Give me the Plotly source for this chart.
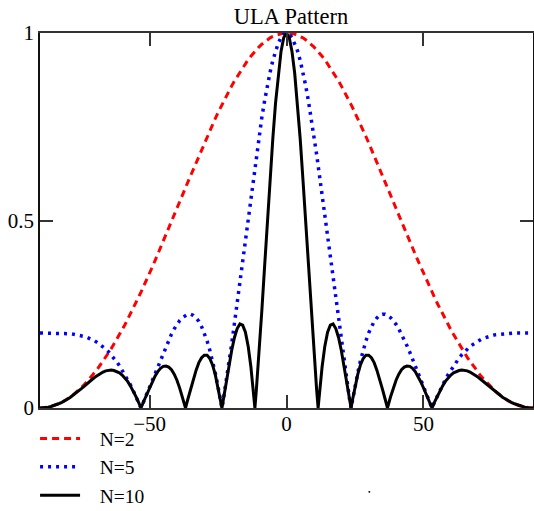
import plotly.graph_objects as go

# Angle (degrees) at which each pattern value was read
theta_deg = [
    -90, -89, -88, -87, -86, -85, -84, -83, -82, -81, -80, -79, -78, -77, -76, -75, -74, -73, -72, -71,
    -70, -69, -68, -67, -66, -65, -64, -63, -62, -61, -60, -59, -58, -57, -56, -55, -54, -53.13,
    -53, -52, -51, -50, -49, -48, -47, -46, -45, -44, -43, -42, -41, -40, -39, -38, -37, -36.87,
    -36, -35, -34, -33, -32, -31, -30, -29, -28, -27, -26, -25, -24, -23.58,
    -23, -22, -21, -20, -19, -18, -17, -16, -15, -14, -13, -12, -11.54,
    -11, -10, -9, -8, -7, -6, -5, -4, -3, -2, -1,
    0,
    1, 2, 3, 4, 5, 6, 7, 8, 9, 10, 11,
    11.54, 12, 13, 14, 15, 16, 17, 18, 19, 20, 21, 22, 23,
    23.58, 24, 25, 26, 27, 28, 29, 30, 31, 32, 33, 34, 35, 36,
    36.87, 37, 38, 39, 40, 41, 42, 43, 44, 45, 46, 47, 48, 49, 50, 51, 52, 53,
    53.13, 54, 55, 56, 57, 58, 59, 60, 61, 62, 63, 64, 65, 66, 67, 68, 69, 70,
    71, 72, 73, 74, 75, 76, 77, 78, 79, 80, 81, 82, 83, 84, 85, 86, 87, 88, 89, 90,
]

# N = 2 elements
af_n2 = [
    0.000, 0.000, 0.001, 0.002, 0.004, 0.006, 0.009, 0.012, 0.015, 0.019, 0.024, 0.029, 0.034, 0.040, 0.047, 0.054, 0.061, 0.069, 0.077, 0.085,
    0.095, 0.104, 0.114, 0.125, 0.135, 0.147, 0.158, 0.170, 0.183, 0.196, 0.209, 0.222, 0.236, 0.251, 0.265, 0.280, 0.296, 0.309,
    0.311, 0.327, 0.343, 0.359, 0.376, 0.393, 0.410, 0.427, 0.444, 0.461, 0.479, 0.497, 0.514, 0.532, 0.550, 0.568, 0.585, 0.588,
    0.603, 0.621, 0.638, 0.656, 0.673, 0.690, 0.707, 0.724, 0.740, 0.756, 0.772, 0.788, 0.803, 0.809,
    0.817, 0.832, 0.846, 0.859, 0.872, 0.884, 0.896, 0.908, 0.918, 0.929, 0.938, 0.947, 0.951,
    0.955, 0.963, 0.970, 0.976, 0.982, 0.987, 0.991, 0.994, 0.997, 0.998, 1.000,
    1.000,
    1.000, 0.998, 0.997, 0.994, 0.991, 0.987, 0.982, 0.976, 0.970, 0.963, 0.955,
    0.951, 0.947, 0.938, 0.929, 0.918, 0.908, 0.896, 0.884, 0.872, 0.859, 0.846, 0.832, 0.817,
    0.809, 0.803, 0.788, 0.772, 0.756, 0.740, 0.724, 0.707, 0.690, 0.673, 0.656, 0.638, 0.621, 0.603,
    0.588, 0.585, 0.568, 0.550, 0.532, 0.514, 0.497, 0.479, 0.461, 0.444, 0.427, 0.410, 0.393, 0.376, 0.359, 0.343, 0.327, 0.311,
    0.309, 0.296, 0.280, 0.265, 0.251, 0.236, 0.222, 0.209, 0.196, 0.183, 0.170, 0.158, 0.147, 0.135, 0.125, 0.114, 0.104, 0.095,
    0.085, 0.077, 0.069, 0.061, 0.054, 0.047, 0.040, 0.034, 0.029, 0.024, 0.019, 0.015, 0.012, 0.009, 0.006, 0.004, 0.002, 0.001, 0.000, 0.000,
]

# N = 5 elements
af_n5 = [
    0.200, 0.200, 0.200, 0.200, 0.200, 0.200, 0.200, 0.200, 0.199, 0.199, 0.199, 0.198, 0.197, 0.196, 0.195, 0.193, 0.191, 0.189, 0.186, 0.183,
    0.179, 0.174, 0.169, 0.164, 0.157, 0.150, 0.142, 0.133, 0.123, 0.113, 0.101, 0.089, 0.076, 0.062, 0.047, 0.031, 0.015, 0.000,
    0.002, 0.020, 0.038, 0.056, 0.075, 0.094, 0.113, 0.131, 0.149, 0.166, 0.182, 0.197, 0.211, 0.223, 0.233, 0.241, 0.247, 0.247,
    0.250, 0.250, 0.247, 0.240, 0.231, 0.217, 0.200, 0.179, 0.154, 0.126, 0.093, 0.057, 0.018, 0.000,
    0.025, 0.071, 0.120, 0.172, 0.226, 0.281, 0.338, 0.395, 0.453, 0.510, 0.567, 0.622, 0.647,
    0.676, 0.727, 0.775, 0.819, 0.860, 0.895, 0.927, 0.953, 0.973, 0.988, 0.997,
    1.000,
    0.997, 0.988, 0.973, 0.953, 0.927, 0.895, 0.860, 0.819, 0.775, 0.727, 0.676,
    0.647, 0.622, 0.567, 0.510, 0.453, 0.395, 0.338, 0.281, 0.226, 0.172, 0.120, 0.071, 0.025,
    0.000, 0.018, 0.057, 0.093, 0.126, 0.154, 0.179, 0.200, 0.217, 0.231, 0.240, 0.247, 0.250, 0.250,
    0.247, 0.247, 0.241, 0.233, 0.223, 0.211, 0.197, 0.182, 0.166, 0.149, 0.131, 0.113, 0.094, 0.075, 0.056, 0.038, 0.020, 0.002,
    0.000, 0.015, 0.031, 0.047, 0.062, 0.076, 0.089, 0.101, 0.113, 0.123, 0.133, 0.142, 0.150, 0.157, 0.164, 0.169, 0.174, 0.179,
    0.183, 0.186, 0.189, 0.191, 0.193, 0.195, 0.196, 0.197, 0.198, 0.199, 0.199, 0.199, 0.200, 0.200, 0.200, 0.200, 0.200, 0.200, 0.200, 0.200,
]

# N = 10 elements
af_n10 = [
    0.000, 0.000, 0.001, 0.002, 0.004, 0.006, 0.009, 0.012, 0.015, 0.019, 0.024, 0.028, 0.034, 0.039, 0.045, 0.051, 0.057, 0.064, 0.070, 0.076,
    0.082, 0.087, 0.092, 0.096, 0.099, 0.101, 0.101, 0.100, 0.098, 0.094, 0.088, 0.080, 0.071, 0.059, 0.046, 0.031, 0.015, 0.000,
    0.002, 0.020, 0.037, 0.054, 0.070, 0.085, 0.097, 0.106, 0.111, 0.112, 0.109, 0.102, 0.090, 0.074, 0.053, 0.030, 0.004, 0.000,
    0.024, 0.051, 0.078, 0.101, 0.121, 0.134, 0.141, 0.141, 0.132, 0.115, 0.089, 0.056, 0.018, 0.000,
    0.025, 0.070, 0.114, 0.154, 0.188, 0.212, 0.224, 0.221, 0.202, 0.165, 0.110, 0.039, 0.000,
    0.049, 0.149, 0.260, 0.377, 0.495, 0.610, 0.718, 0.813, 0.892, 0.951, 0.988,
    1.000,
    0.988, 0.951, 0.892, 0.813, 0.718, 0.610, 0.495, 0.377, 0.260, 0.149, 0.049,
    0.000, 0.039, 0.110, 0.165, 0.202, 0.221, 0.224, 0.212, 0.188, 0.154, 0.114, 0.070, 0.025,
    0.000, 0.018, 0.056, 0.089, 0.115, 0.132, 0.141, 0.141, 0.134, 0.121, 0.101, 0.078, 0.051, 0.024,
    0.000, 0.004, 0.030, 0.053, 0.074, 0.090, 0.102, 0.109, 0.112, 0.111, 0.106, 0.097, 0.085, 0.070, 0.054, 0.037, 0.020, 0.002,
    0.000, 0.015, 0.031, 0.046, 0.059, 0.071, 0.080, 0.088, 0.094, 0.098, 0.100, 0.101, 0.101, 0.099, 0.096, 0.092, 0.087, 0.082,
    0.076, 0.070, 0.064, 0.057, 0.051, 0.045, 0.039, 0.034, 0.028, 0.024, 0.019, 0.015, 0.012, 0.009, 0.006, 0.004, 0.002, 0.001, 0.000, 0.000,
]

series_names = ["N=2", "N=5", "N=10"]
x_tick_vals = [-50, 0, 50]
x_tick_text = ["\u221250", "0", "50"]
y_tick_vals = [0, 0.5, 1]
y_tick_text = ["0", "0.5", "1"]

FONT = "Liberation Serif, Times New Roman, serif"
PAD = "\u00a0\u00a0\u00a0"  # pushes legend text right of the line sample

fig = go.Figure()
fig.add_trace(go.Scatter(
    x=theta_deg, y=af_n2, mode="lines", name=PAD + series_names[0], legendgroup="a",
    line=dict(color="#ff0000", width=3, dash="7px,5px"),
))
fig.add_trace(go.Scatter(
    x=theta_deg, y=af_n5, mode="lines", name=PAD + series_names[1], legendgroup="b",
    line=dict(color="#0000ff", width=3.5, dash="3px,5px"),
))
fig.add_trace(go.Scatter(
    x=theta_deg, y=af_n10, mode="lines", name=PAD + series_names[2], legendgroup="c",
    line=dict(color="#000000", width=3),
))

fig.update_layout(
    width=534, height=511,
    paper_bgcolor="white", plot_bgcolor="white",
    margin=dict(l=40, r=1, t=33, b=103, autoexpand=False),
    font=dict(family=FONT, size=21, color="black"),
    title=dict(text="ULA Pattern", x=0.545, xref="container", xanchor="center",
               y=1 - 16 / 511, yref="container", yanchor="middle",
               font=dict(family=FONT, size=22.5, color="black")),
    showlegend=True,
    legend=dict(x=-0.01, y=-0.03, xanchor="left", yanchor="top",
                xref="paper", yref="paper",
                bgcolor="rgba(0,0,0,0)", borderwidth=0,
                font=dict(family=FONT, size=19.5, color="black"),
                itemwidth=40, traceorder="grouped", tracegroupgap=0),
    xaxis=dict(range=[-90, 90], tickvals=x_tick_vals, ticktext=x_tick_text,
               ticks="inside", ticklen=13, tickwidth=1.5, tickcolor="#333",
               showline=True, linecolor="#333", linewidth=1.5, mirror="ticks",
               showgrid=False, zeroline=False, ticklabelstandoff=-4,
               tickfont=dict(family=FONT, size=21, color="black")),
    yaxis=dict(range=[0, 1], tickvals=y_tick_vals, ticktext=y_tick_text,
               ticks="inside", ticklen=13, tickwidth=1.5, tickcolor="#333",
               showline=True, linecolor="#111", linewidth=1.5, mirror="ticks",
               showgrid=False, zeroline=False,
               tickfont=dict(family=FONT, size=21, color="black")),
    shapes=[dict(type="circle", xref="paper", yref="paper",
                 x0=0.666, x1=0.670, y0=-0.226, y1=-0.221,
                 fillcolor="black", line=dict(width=0))],
)

fig.write_html("out.html", config={"displayModeBar": False})

# remove the browser's default page margin so the figure sits at the window origin
with open("out.html", "r", encoding="utf-8") as f:
    html = f.read()
html = html.replace("<head>", "<head><style>html,body{margin:0;padding:0;overflow:hidden;}</style>", 1)
with open("out.html", "w", encoding="utf-8") as f:
    f.write(html)
